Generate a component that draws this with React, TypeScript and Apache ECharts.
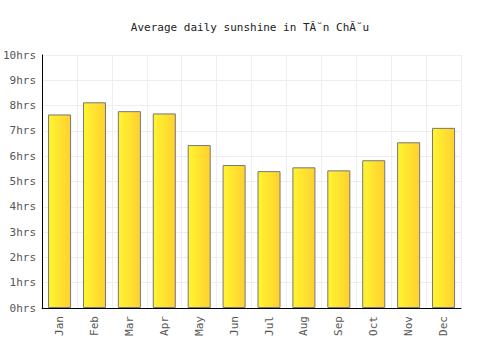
import React, { useEffect, useRef } from "react";
import * as echarts from "echarts";

const months = ["Jan", "Feb", "Mar", "Apr", "May", "Jun", "Jul", "Aug", "Sep", "Oct", "Nov", "Dec"];
const sunshine = [7.65, 8.13, 7.78, 7.69, 6.44, 5.65, 5.41, 5.56, 5.44, 5.84, 6.55, 7.12];
const titleText = "Average daily sunshine in TĂ˘n ChĂ˘u";
const FONT = "DejaVu Sans Mono";

export default function App() {
  const ref = useRef<HTMLDivElement>(null);
  useEffect(() => {
    const chart = echarts.init(ref.current!, null, { renderer: "svg" });
    chart.setOption({
      animation: false,
      title: {
        text: titleText,
        left: "center",
        top: 17,
        textStyle: { fontFamily: FONT, fontSize: 11, fontWeight: "normal", color: "#222" },
      },
      grid: { left: 41, right: 39, top: 55, bottom: 42 },
      xAxis: {
        type: "category",
        data: months,
        axisLine: { lineStyle: { color: "#000", width: 1 } },
        axisTick: { show: false },
        splitLine: { show: true, lineStyle: { color: "#eeeeee" } },
        axisLabel: { rotate: 90, fontFamily: FONT, fontSize: 11, color: "#555", margin: 8 },
      },
      yAxis: {
        type: "value",
        min: 0,
        max: 10,
        interval: 1,
        axisLine: { show: true, lineStyle: { color: "#000", width: 1 } },
        axisTick: { show: false },
        splitLine: { lineStyle: { color: "#eeeeee" } },
        axisLabel: { formatter: "{value}hrs", fontFamily: FONT, fontSize: 11, color: "#555", margin: 6 },
      },
      series: [
        {
          type: "bar",
          data: sunshine,
          barWidth: "66%",
          itemStyle: {
            borderColor: "#777",
            borderWidth: 1,
            color: new echarts.graphic.LinearGradient(0, 0, 1, 0, [
              { offset: 0, color: "#fff530" },
              { offset: 1, color: "#ffd030" },
            ]),
          },
        },
      ],
    });
    return () => chart.dispose();
  }, []);
  return <div ref={ref} style={{ width: 500, height: 350, position: "absolute", left: 0, top: 0 }} />;
}
